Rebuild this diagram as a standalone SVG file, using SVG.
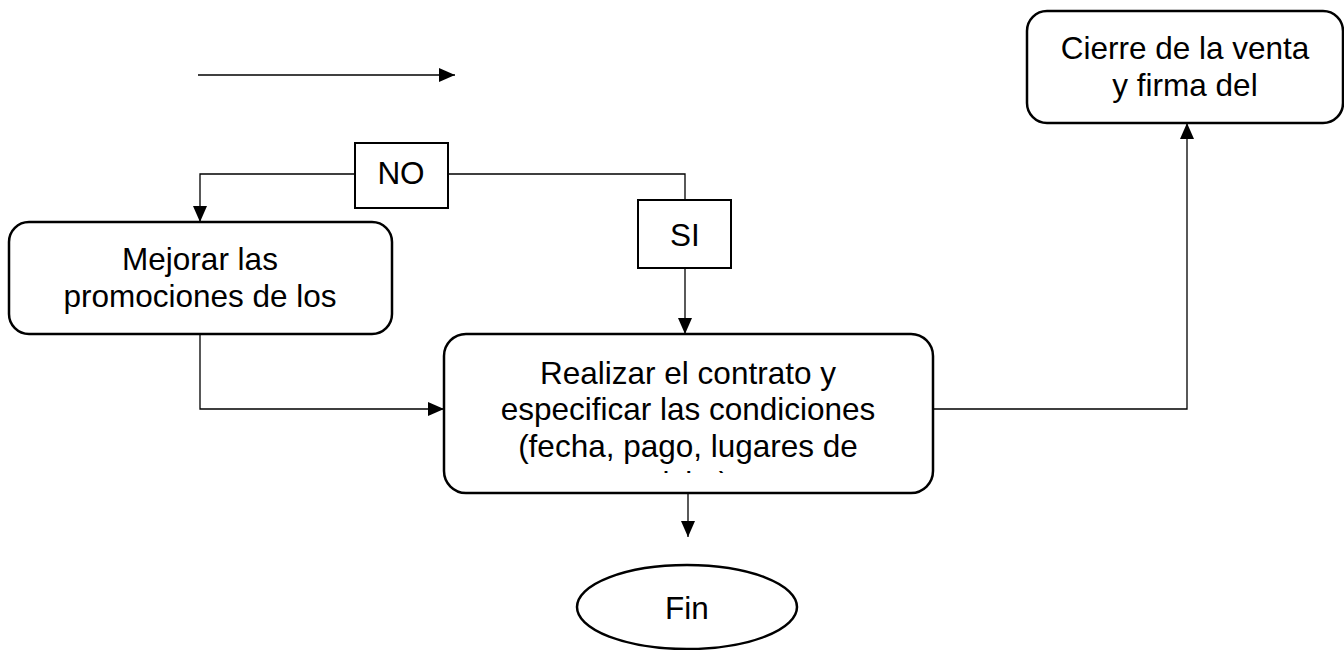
<svg xmlns="http://www.w3.org/2000/svg" width="1344" height="650" viewBox="0 0 1344 650">
<style>
.box{fill:#fff;stroke:#000;stroke-width:2.5}
.lbl{fill:#fff;stroke:#000;stroke-width:2}
.c{fill:none;stroke:#000;stroke-width:1.3}
text{font-family:"Liberation Sans",Arial,sans-serif;font-size:31.5px;fill:#000;text-anchor:middle}
</style>
<defs>
<marker id="ah" markerWidth="16" markerHeight="14" refX="16" refY="7" orient="auto" markerUnits="userSpaceOnUse">
<path d="M0,0 L16,7 L0,14 Z" fill="#000"/>
</marker>
<clipPath id="mainclip"><rect x="444" y="334" width="489" height="139"/></clipPath>
</defs>
<g id="connectors">
<line class="c" x1="198" y1="75" x2="455" y2="75" marker-end="url(#ah)"/>
<polyline class="c" points="355,174 200,174 200,222" marker-end="url(#ah)"/>
<polyline class="c" points="448,174 685,174 685,200"/>
<line class="c" x1="685" y1="268" x2="685" y2="334" marker-end="url(#ah)"/>
<polyline class="c" points="200,334 200,409 444,409" marker-end="url(#ah)"/>
<polyline class="c" points="933,409 1187,409 1187,123" marker-end="url(#ah)"/>
<line class="c" x1="688" y1="493" x2="688" y2="537" marker-end="url(#ah)"/>
</g>
<g id="node-cierre">
<rect class="box" x="1027" y="11" width="316" height="112" rx="20"/>
<text x="1185" y="59">Cierre de la venta</text>
<text x="1185" y="96">y firma del</text>
</g>
<g id="node-no">
<rect class="lbl" x="355" y="143" width="93" height="65"/>
<text x="401" y="184">NO</text>
</g>
<g id="node-si">
<rect class="lbl" x="638" y="200" width="93" height="68"/>
<text x="685" y="246">SI</text>
</g>
<g id="node-mejorar">
<rect class="box" x="9" y="222" width="383" height="112" rx="20"/>
<text x="200" y="270">Mejorar las</text>
<text x="200" y="307">promociones de los</text>
</g>
<g id="node-realizar">
<rect class="box" x="444" y="334" width="489" height="159" rx="22"/>
<g clip-path="url(#mainclip)">
<text x="688" y="384">Realizar el contrato y</text>
<text x="688" y="420">especificar las condiciones</text>
<text x="688" y="457">(fecha, pago, lugares de</text>
<text x="688" y="494">visita)</text>
</g>
</g>
<g id="node-fin">
<ellipse class="box" cx="687" cy="607" rx="110" ry="42"/>
<text x="687" y="619">Fin</text>
</g>
</svg>
